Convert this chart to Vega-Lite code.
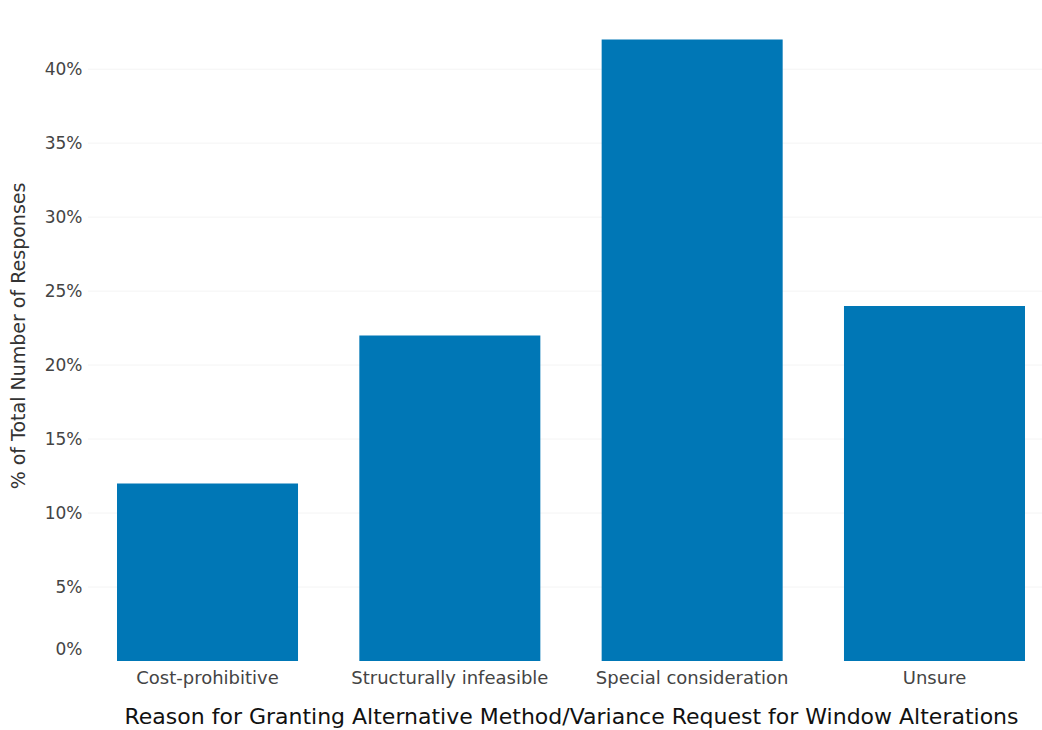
{
  "$schema": "https://vega.github.io/schema/vega-lite/v6.json",
  "autosize": "none",
  "width": 954,
  "height": 651,
  "padding": {"left": 88, "top": 10, "right": 0, "bottom": 69},
  "background": "white",
  "config": {
    "view": {"stroke": null},
    "font": "DejaVu Sans"
  },
  "layer": [
    {
      "data": {"values": [{"g": 0.05}, {"g": 0.1}, {"g": 0.15}, {"g": 0.2}, {"g": 0.25}, {"g": 0.3}, {"g": 0.35}, {"g": 0.4}]},
      "mark": {"type": "rule", "color": "#f4f4f4", "strokeWidth": 1},
      "encoding": {
        "y": {"field": "g", "type": "quantitative"}
      }
    },
    {
      "data": {
        "values": [
          {"reason": "Cost-prohibitive", "pct": 0.12},
          {"reason": "Structurally infeasible", "pct": 0.22},
          {"reason": "Special consideration", "pct": 0.42},
          {"reason": "Unsure", "pct": 0.24}
        ]
      },
      "mark": {"type": "bar", "color": "#0077b6"},
      "encoding": {
        "x": {
          "field": "reason",
          "type": "nominal",
          "sort": null,
          "scale": {"range": [29, 937], "paddingInner": 0.253, "paddingOuter": 0},
          "axis": {
            "title": "Reason for Granting Alternative Method/Variance Request for Window Alterations",
            "titleFontSize": 22,
            "titleFontWeight": "normal",
            "titleColor": "#111111",
            "titlePadding": 19,
            "labelFontSize": 18,
            "labelColor": "#444444",
            "labelAngle": 0,
            "labelPadding": 8,
            "labelLimit": 0,
            "domain": false,
            "ticks": false,
            "grid": false
          }
        },
        "y": {
          "field": "pct",
          "type": "quantitative",
          "scale": {"domain": [0, 0.44], "nice": false},
          "axis": {
            "title": "% of Total Number of Responses",
            "titleFontSize": 19,
            "titleFontWeight": "normal",
            "titleColor": "#333333",
            "titlePadding": 16,
            "format": ".0%",
            "values": [0, 0.05, 0.1, 0.15, 0.2, 0.25, 0.3, 0.35, 0.4],
            "labelFontSize": 17,
            "labelColor": "#444444",
            "labelPadding": 6,
            "labelOffset": {"condition": {"test": "datum.value == 0", "value": -12}, "value": 0},
            "domain": false,
            "ticks": false,
            "grid": false
          }
        }
      }
    }
  ]
}
